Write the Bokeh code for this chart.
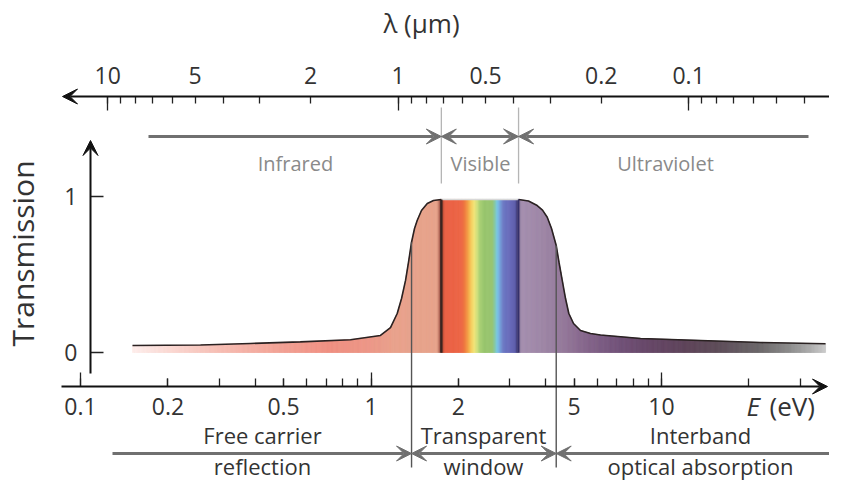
import numpy as np
from bokeh.plotting import figure
from bokeh.models import (LogAxis, LinearAxis, FixedTicker, Range1d, LogScale,
                          Arrow, VeeHead, Label)
from bokeh.embed import file_html
from bokeh.resources import INLINE

# ---------------- data ----------------
energy_eV = [0.151, 0.259, 0.385, 0.571, 0.850, 1.078, 1.167, 1.231, 1.274, 1.315,
             1.346, 1.379, 1.412, 1.442, 1.492, 1.562, 1.641, 1.746,
             3.221, 3.485, 3.734, 3.894, 4.043, 4.182, 4.341, 4.439, 4.553, 4.673,
             4.797, 4.979, 5.263, 5.696, 6.166, 8.469, 13.62, 21.92, 36.7]
transmission = [0.045, 0.048, 0.058, 0.068, 0.082, 0.109, 0.160, 0.250, 0.346, 0.462,
                0.577, 0.707, 0.795, 0.846, 0.910, 0.955, 0.974, 0.981,
                0.981, 0.971, 0.942, 0.913, 0.867, 0.795, 0.686, 0.577, 0.462, 0.346,
                0.250, 0.186, 0.141, 0.122, 0.112, 0.090, 0.077, 0.064, 0.056]

window_eV = [1.379, 4.341]      # transparent window limits (eV)
visible_um = [0.71, 0.385]      # visible band limits (um)

e_ticks = [0.1, 0.2, 0.5, 1, 2, 5, 10]
e_tick_labels = ["0.1", "0.2", "0.5", "1", "2", "5", "10"]
e_decades = [0.1, 1, 10]
e_minor = [0.2, 0.3, 0.4, 0.5, 0.6, 0.7, 0.8, 0.9, 2, 3, 4, 5, 6, 7, 8, 9, 20, 30]

lam_ticks = [10, 5, 2, 1, 0.5, 0.2, 0.1]
lam_tick_labels = ["10", "5", "2", "1", "0.5", "0.2", "0.1"]
lam_decades = [10, 1, 0.1]
lam_minor = [9, 8, 7, 6, 4, 3, 0.9, 0.8, 0.7, 0.6, 0.4, 0.3,
             0.09, 0.08, 0.07, 0.06, 0.05, 0.04]

t_ticks = [0, 1]
t_tick_labels = ["0", "1"]

HC = 1.24  # eV * um

# ---------------- layout helpers (canvas pixel -> data) ----------------
def ex(X):
    return 10 ** (-1 + (X - 80) / 290.5)

def ty(Y):
    return (352 - Y) / 156

def lx(X):
    return HC / ex(X)

W, H = 829, 483
FONT = "Open Sans"
DARK = "#333333"
GREY = "#707070"

p = figure(width=W, height=H, x_axis_type="log",
           x_axis_location=None, y_axis_location=None,
           x_range=Range1d(ex(0), ex(W)), y_range=Range1d(ty(H), ty(0)),
           output_backend="svg", toolbar_location=None, min_border=0)
p.outline_line_color = None
p.grid.visible = False
p.extra_x_ranges = {"lam": Range1d(HC / ex(0), HC / ex(W))}
p.extra_x_scales = {"lam": LogScale()}

# ---------------- gradient fill under the curve ----------------
stops = [(131, "#fdeeec"), (170, "#fad8d2"), (220, "#f6bcb2"), (280, "#f2a194"),
         (330, "#ef8e80"), (370, "#ec9686"), (395, "#e8a18b"), (437, "#e6a28a"),
         (439.5, "#b06050"), (441, "#4a2a22"), (443, "#c85038"), (445, "#ea5e42"),
         (461, "#ec6444"), (465, "#ef7c3e"), (468, "#f3a244"), (471, "#f6cc5c"),
         (474, "#f2e478"), (477, "#cfe07a"), (480, "#a6cf72"), (484, "#98c46c"),
         (492, "#96c46e"), (495, "#84c8b0"), (497, "#78c6e6"), (500, "#74a0da"),
         (503, "#6c78c4"), (510, "#6668b8"), (515, "#5c5caa"), (517, "#3e3a74"),
         (519, "#7a6890"), (521, "#a48eae"), (545, "#9c84a4"), (565, "#927698"),
         (585, "#84648a"), (615, "#72527a"), (645, "#664668"), (685, "#5c4258"),
         (720, "#5c4c58"), (760, "#6a6668"), (790, "#8c8c8c"), (810, "#acacac"),
         (825, "#cacaca")]
sx = np.log10([ex(s[0]) for s in stops])
rgb = np.array([[int(c[1:3], 16), int(c[3:5], 16), int(c[5:7], 16)] for _, c in stops], float)

logE = np.log10(energy_eV)
g = np.linspace(logE[0], logE[-1], 760)
Tg = np.interp(g, logE, transmission)
mid = 0.5 * (g[:-1] + g[1:])
cols = ["#%02x%02x%02x" % tuple(int(round(np.interp(m, sx, rgb[:, k]))) for k in range(3))
        for m in mid]
xs = [[10 ** g[i], 10 ** g[i + 1], 10 ** g[i + 1], 10 ** g[i]] for i in range(len(mid))]
ys = [[0, 0, Tg[i + 1], Tg[i]] for i in range(len(mid))]
p.patches(xs, ys, fill_color=cols, line_color=cols, line_width=0.7)

# curve outline (dark outside the visible band, faint over it)
n_lo = energy_eV.index(1.746) + 1
p.line(energy_eV[:n_lo], transmission[:n_lo], line_color="#2a2222", line_width=1.6)
p.line(energy_eV[n_lo - 1:n_lo + 1], transmission[n_lo - 1:n_lo + 1],
       line_color="#d8d8d8", line_width=1.5)
p.line(energy_eV[n_lo:], transmission[n_lo:], line_color="#2a2222", line_width=1.6)

# ---------------- axes ----------------
def style_axis(ax, tin, labels=True, size="23px"):
    ax.axis_line_color = None
    ax.major_tick_in = tin
    ax.major_tick_out = 0
    ax.minor_tick_in = 8
    ax.minor_tick_out = 0
    ax.major_tick_line_color = "#222222"
    ax.minor_tick_line_color = "#222222"
    ax.major_tick_line_width = 1.3
    ax.minor_tick_line_width = 1.3
    ax.major_label_text_font = FONT
    ax.major_label_text_font_size = size
    ax.major_label_text_color = DARK if labels else None

# bottom energy axis
e_axis = LogAxis(ticker=FixedTicker(ticks=e_ticks, minor_ticks=e_minor),
                 fixed_location=ty(386), major_label_standoff=11,
                 major_label_overrides=dict(zip(e_ticks, e_tick_labels)))
style_axis(e_axis, 8)
p.add_layout(e_axis, "below")
e_axis2 = LogAxis(ticker=FixedTicker(ticks=e_decades), fixed_location=ty(386))
style_axis(e_axis2, 14, labels=False)
e_axis2.minor_tick_line_color = None
p.add_layout(e_axis2, "below")

# top wavelength axis
l_axis = LogAxis(x_range_name="lam", ticker=FixedTicker(ticks=lam_ticks, minor_ticks=lam_minor),
                 fixed_location=ty(96), major_label_standoff=13,
                 major_label_overrides=dict(zip(lam_ticks, lam_tick_labels)))
style_axis(l_axis, 7)
l_axis.minor_tick_in = 7
p.add_layout(l_axis, "above")
l_axis2 = LogAxis(x_range_name="lam", ticker=FixedTicker(ticks=lam_decades), fixed_location=ty(96))
style_axis(l_axis2, 14, labels=False)
l_axis2.minor_tick_line_color = None
p.add_layout(l_axis2, "above")

# transmission axis
t_axis = LinearAxis(ticker=FixedTicker(ticks=t_ticks), fixed_location=ex(90),
                    major_label_standoff=13,
                    major_label_overrides=dict(zip(t_ticks, t_tick_labels)))
style_axis(t_axis, 13)
t_axis.minor_tick_line_color = None
p.add_layout(t_axis, "left")

# axis lines with arrow heads
def axis_arrow(x0, y0, x1, y1):
    p.add_layout(Arrow(end=VeeHead(size=15, fill_color="#111111", line_color="#111111"),
                       x_start=x0, y_start=y0, x_end=x1, y_end=y1,
                       line_color="#111111", line_width=2))

axis_arrow(ex(61), ty(386), ex(827), ty(386))
axis_arrow(ex(W), ty(96), ex(62), ty(96))
axis_arrow(ex(90), ty(373), ex(90), ty(140))

# ---------------- region markers ----------------
# visible band guide lines (top)
p.segment(x0=visible_um, y0=[ty(107)] * 2, x1=visible_um, y1=[ty(183)] * 2,
          x_range_name="lam", line_color="#b5b5b5", line_width=1.3)
# rainbow edges
vis_eV = [HC / v for v in visible_um]
p.segment(x0=vis_eV, y0=[0, 0], x1=vis_eV, y1=[transmission[n_lo - 1]] * 2,
          line_color=["#3a2420", "#35306a"], line_width=[2.2, 1.6])
# transparent window lines (bottom)
win_T = list(np.interp(np.log10(window_eV), logE, transmission))
p.segment(x0=window_eV, y0=win_T, x1=window_eV, y1=[ty(467)] * 2,
          line_color="#555555", line_width=1.4)

def grey_arrow(x0, x1, y, both=False, rng="default"):
    head = lambda: VeeHead(size=15, fill_color=GREY, line_color=GREY)
    p.add_layout(Arrow(start=head() if both else None, end=head(),
                       x_start=x0, y_start=y, x_end=x1, y_end=y,
                       line_color=GREY, line_width=3, x_range_name=rng))

ya = ty(136)
grey_arrow(lx(148), visible_um[0], ya, rng="lam")
grey_arrow(visible_um[0], visible_um[1], ya, both=True, rng="lam")
grey_arrow(lx(808), visible_um[1], ya, rng="lam")

yb = ty(453)
grey_arrow(ex(112), window_eV[0], yb)
grey_arrow(window_eV[0], window_eV[1], yb, both=True)
grey_arrow(ex(W + 5), window_eV[1], yb)

# ---------------- texts ----------------
def txt(s, X, Y, size="23px", color=DARK, align="center", style="normal", angle=0.0):
    p.add_layout(Label(x=ex(X), y=ty(Y), text=s, text_align=align, text_baseline="middle",
                       text_font=FONT, text_font_size=size, text_color=color,
                       text_font_style=style, angle=angle))

txt("λ (μm)", 421, 22, size="26px")
txt("Transmission", 22, 253, size="30px", angle=np.pi / 2)

for s, X in [("Infrared", 295), ("Visible", 480), ("Ultraviolet", 665)]:
    txt(s, X, 163, size="20px", color="#8a8a8a")
for s, X, Y in [("Free carrier", 262, 434), ("reflection", 262, 465),
                ("Transparent", 483, 434), ("window", 483, 465),
                ("Interband", 700, 434), ("optical absorption", 700, 465)]:
    txt(s, X, Y, size="22px")
txt("E", 746, 405, size="26px", align="left", style="italic")
txt("(eV)", 769, 405, size="26px", align="left")

open("out.html", "w").write(file_html(p, INLINE))
